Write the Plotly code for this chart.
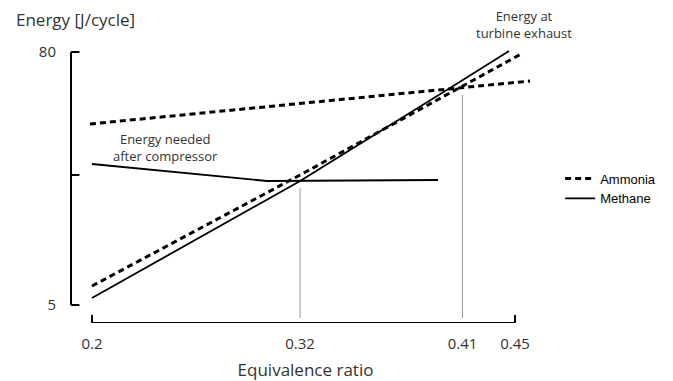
import plotly.graph_objects as go

# ---- data (schematic) ----
amm_needed_x = [0.1988, 0.4589]
amm_needed_y = [58.66, 71.40]
amm_exhaust_x = [0.2, 0.323, 0.4547]
amm_exhaust_y = [10.63, 43.54, 79.70]
met_exhaust_x = [0.2, 0.323, 0.4116, 0.4465]
met_exhaust_y = [7.08, 41.76, 69.33, 80.30]
met_needed_x = [0.2, 0.3034, 0.4045]
met_needed_y = [46.80, 41.76, 42.06]
guide1_x = [0.323, 0.323]
guide1_y = [39.7, 1.15]
guide2_x = [0.419, 0.419]
guide2_y = [67.25, 1.15]

x_tickvals = [0.2, 0.323, 0.419, 0.45]
x_ticktext = ["0.2", "0.32", "0.41", "0.45"]
y_tickvals = [5, 80]
y_ticktext = ["5", "80"]
y_mid_tick = 43.54

x_range = [0.1876, 0.4648]
y_range = [-0.336, 81.19]

TXT = "#333333"
FONT = "Open Sans"

fig = go.Figure()
fig.add_trace(go.Scatter(x=guide1_x, y=guide1_y, mode="lines",
                         line=dict(color="#9a9a9a", width=1), showlegend=False, hoverinfo="skip"))
fig.add_trace(go.Scatter(x=guide2_x, y=guide2_y, mode="lines",
                         line=dict(color="#9a9a9a", width=1), showlegend=False, hoverinfo="skip"))
fig.add_trace(go.Scatter(x=amm_needed_x, y=amm_needed_y, mode="lines", name="Ammonia", legendgroup="a",
                         line=dict(color="black", width=3, dash="6px,4px"), showlegend=True))
fig.add_trace(go.Scatter(x=amm_exhaust_x, y=amm_exhaust_y, mode="lines", name="Ammonia", legendgroup="a",
                         line=dict(color="black", width=3, dash="6px,4px"), showlegend=False))
fig.add_trace(go.Scatter(x=met_needed_x, y=met_needed_y, mode="lines", name="Methane", legendgroup="m",
                         line=dict(color="black", width=1.8), showlegend=True))
fig.add_trace(go.Scatter(x=met_exhaust_x, y=met_exhaust_y, mode="lines", name="Methane", legendgroup="m",
                         line=dict(color="black", width=1.8), showlegend=False))

shapes = []
# y axis line and ticks
shapes.append(dict(type="line", xref="paper", yref="y", x0=0, x1=0, y0=5, y1=80,
                   line=dict(color="black", width=2)))
for yv in [5, y_mid_tick, 80]:
    shapes.append(dict(type="line", xref="paper", yref="y", x0=0, x1=0.018, y0=yv, y1=yv,
                       line=dict(color="black", width=2)))
# x axis line and end ticks
shapes.append(dict(type="line", xref="x", yref="y", x0=0.2, x1=0.45, y0=y_range[0], y1=y_range[0],
                   line=dict(color="black", width=2)))
for xv in [0.2, 0.45]:
    shapes.append(dict(type="line", xref="x", yref="y", x0=xv, x1=xv, y0=y_range[0], y1=y_range[0] + 2.4,
                       line=dict(color="black", width=2)))

# page body has an 8px margin, so the figure is 8px smaller and offsets are reduced
fig.update_layout(
    width=665, height=373,
    margin=dict(l=63, r=133, t=40, b=58, autoexpand=False),
    plot_bgcolor="white", paper_bgcolor="white",
    font=dict(family=FONT, size=14, color=TXT),
    shapes=shapes,
    xaxis=dict(range=x_range, showline=False, showgrid=False, zeroline=False, automargin=False,
               tickvals=x_tickvals, ticktext=x_ticktext, ticks="",
               tickfont=dict(size=15, color=TXT), ticklabelstandoff=10,
               title=dict(text="Equivalence ratio", font=dict(size=17, color=TXT), standoff=13)),
    yaxis=dict(range=y_range, showline=False, showgrid=False, zeroline=False, automargin=False,
               tickvals=y_tickvals, ticktext=y_ticktext, ticks="",
               tickfont=dict(size=15, color=TXT), ticklabelstandoff=14),
    legend=dict(x=1.043, y=0.58, xanchor="left", yanchor="top",
                font=dict(family="Liberation Sans", size=13, color="black"),
                tracegroupgap=0, itemwidth=30, bgcolor="rgba(0,0,0,0)"),
    annotations=[
        dict(text="Energy [J/cycle]", xref="paper", yref="paper", x=-0.122, y=1.105,
             xanchor="left", yanchor="middle", showarrow=False, font=dict(size=17, color=TXT)),
        dict(text="Energy needed<br>after compressor", xref="x", yref="y", x=0.2435, y=51.8,
             xanchor="center", yanchor="middle", showarrow=False, font=dict(size=13, color=TXT)),
        dict(text="Energy at<br>turbine exhaust", xref="x", yref="paper", x=0.4555, y=1.086,
             xanchor="center", yanchor="middle", showarrow=False, font=dict(size=13, color=TXT)),
    ],
)

fig.write_html("out.html")
